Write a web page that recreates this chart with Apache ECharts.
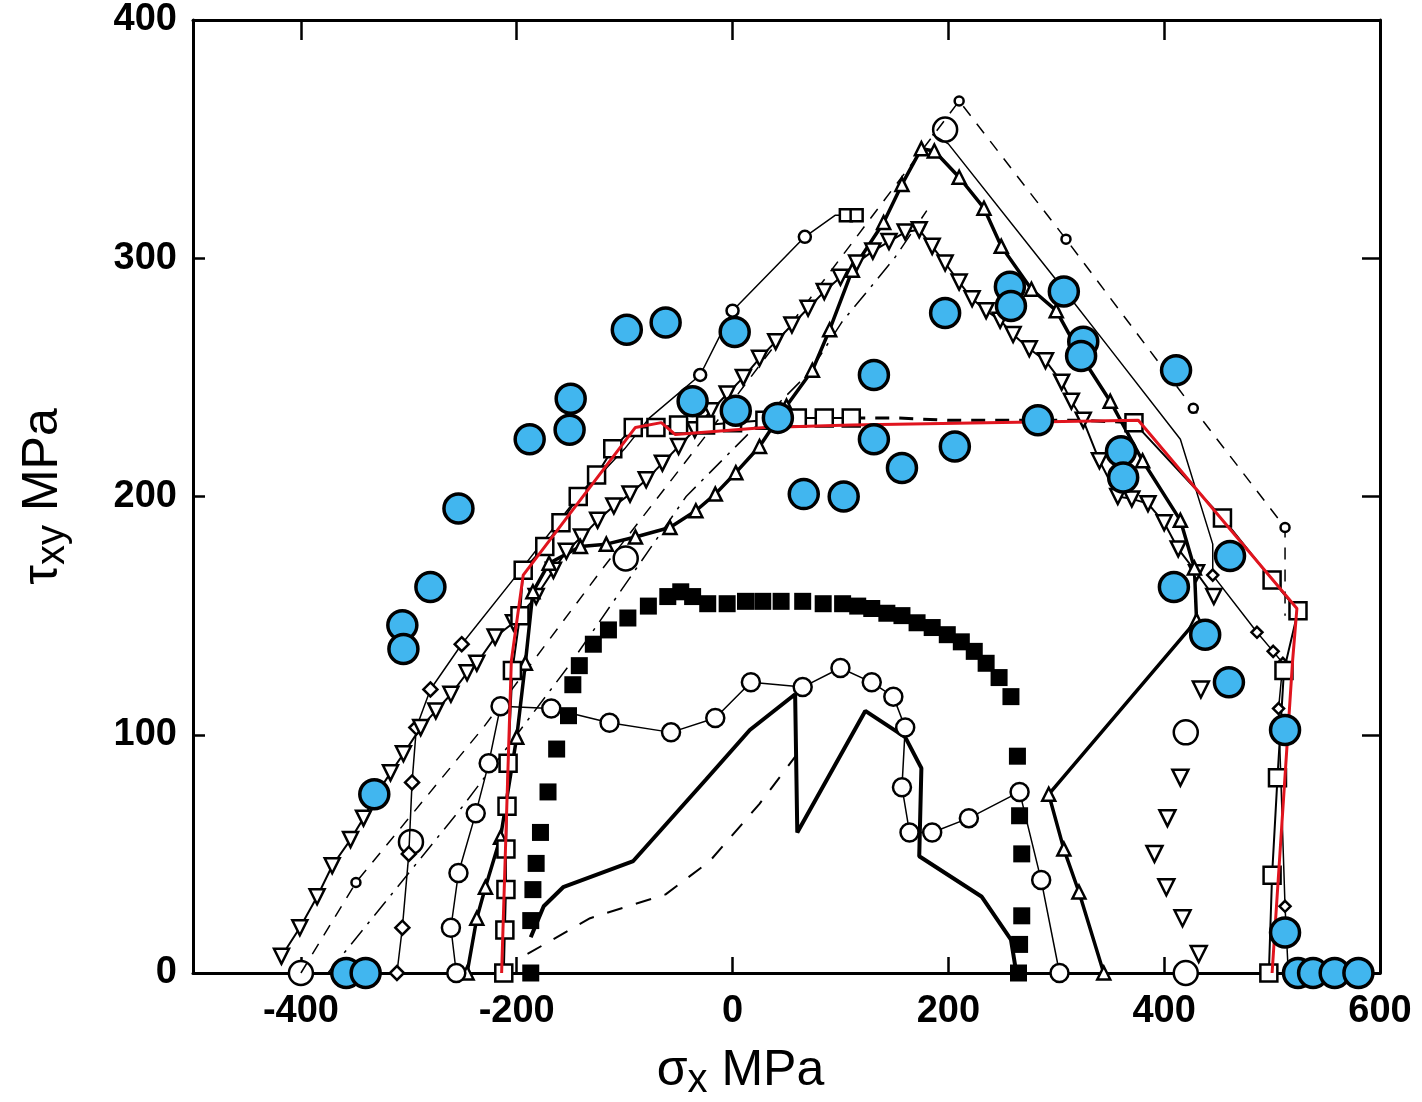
<!DOCTYPE html>
<html><head><meta charset="utf-8">
<script src="https://cdn.jsdelivr.net/npm/echarts@6/dist/echarts.min.js"></script>
<style>html,body{margin:0;padding:0;background:#fff}#c{width:1422px;height:1102px}</style>
</head><body><div id="c"></div>
<script>
const xTickValues = [-400, -200, 0, 200, 400, 600];
const yTickValues = [0, 100, 200, 300, 400];

const redModel = [[-214,0],[-205,131],[-194,167],[-90,229],[-66,231],[-53,226],[30,229],[110,230],[376,232],[523,153],[521,142],[519,131],[500,0]];

const blueData = [[-98,270],[-62,273],[2,269],[-150,241],[-151,228],[-188,224],[-254,195],[-280,162],[-306,146],[-305,136],[-332,75],[-358,0],[-340,0],[-37,240],[3,236],[42,233],[131,251],[131,224],[157,212],[206,221],[66,201],[103,200],[197,277],[257,288],[258,280],[307,286],[325,265],[323,259],[411,253],[283,232],[360,219],[362,208],[461,175],[409,162],[438,142],[460,122],[512,102],[512,17],[524,0],[538,0],[558,0],[580,0]];

const openSquares = [[-212,0],[-211,18],[-210,35],[-210,52],[-209,70],[-208,88],[-204,127],[-197,150],[-194,169],[-174,179],[-159,189],[-143,200],[-126,209],[-111,220],[-92,229],[-71,229],[-50,230],[-25,230],[0,231],[30,232],[60,233],[85,233],[110,233]];
const openSquaresTop = [[110,233],[150,233],[200,232],[260,232],[320,232],[372,231]];
const openSquaresRight = [[372,231],[454,191],[500,165],[524,152],[511,127],[505,82],[500,41],[497,0]];

const filledSquares = [[-187,0],[-187,22],[-185,35],[-182,46],[-178,59],[-171,76],[-163,94],[-152,108],[-148,121],[-142,129],[-129,138],[-115,144],[-97,149],[-78,154],[-60,158],[-48,160],[-37,158],[-23,155],[-5,155],[12,156],[28,156],[45,156],[65,156],[84,155],[102,155],[116,154],[129,153],[143,151],[157,150],[171,147],[185,145],[199,142],[212,139],[224,135],[235,130],[247,124],[258,116],[264,91],[266,66],[268,50],[268,24],[266,12],[265,0]];

const downTri = [[-418,7],[-401,19],[-385,32],[-371,45],[-354,56],[-342,65],[-330,75],[-317,84],[-305,92],[-289,103],[-275,110],[-261,117],[-246,126],[-237,130],[-220,141],[-203,147],[-182,158],[-166,169],[-154,177],[-140,183],[-125,190],[-110,196],[-95,201],[-80,207],[-65,214],[-50,221],[-35,228],[-20,236],[-5,243],[10,250],[25,258],[40,265],[55,272],[70,279],[85,286],[100,292],[115,298],[130,303],[145,307],[160,311],[173,312],[185,305],[197,298],[210,290],[222,283],[235,278],[248,274],[260,268],[275,262],[290,257],[305,248],[314,240],[325,232],[340,215],[357,200],[370,199],[385,197],[400,189],[413,178],[430,168],[446,158]];
const downTriIso = [[434,119],[415,82],[403,65],[391,50],[402,36],[417,23],[432,8]];

const upTri = [[-246,0],[-237,23],[-229,36],[-215,57],[-200,99],[-192,130],[-185,160],[-170,172],[-141,179],[-117,180],[-90,183],[-58,187],[-34,194],[-16,201],[3,210],[25,221],[50,238],[74,253],[90,270],[111,295],[140,315],[157,331],[175,346],[187,345],[210,334],[233,321],[249,305],[277,287],[300,278],[323,259],[350,240],[380,215],[415,190],[428,170],[430,148],[293,75],[307,52],[321,34],[344,0]];

const diamonds = [[-311,0],[-306,19],[-300,50],[-297,80],[-293,103],[-280,119],[-251,138],[-200,167],[-150,196],[-100,220],[-77,233],[-30,251],[0,278],[67,309],[95,318],[105,318],[115,318]];
const thinRight = [[185,352],[200,348],[298,292],[348,263],[415,224],[445,180],[445,167],[486,143],[501,135],[510,130],[506,111],[512,28],[515,0]];

const dashA = [[-400,0],[-349,38],[-231,103],[-120,170],[0,240],[100,300],[210,366],[309,308],[427,237],[512,187],[512,150]];
const dashB = [[-375,0],[-250,70],[-150,130],[-43,200],[71,252],[101,273],[150,300],[180,320]];
const dashLow = [[-190,8],[-132,23],[-62,33],[-21,47],[25,71],[60,92]];

const thickCurve = [[-187,15],[-175,28],[-157,36],[-92,47],[-25,81],[16,102],[58,117],[60,59],[123,110],[160,99],[175,86],[173,49],[231,32],[258,14],[263,0]];

const openCircles = [[-256,0],[-261,19],[-254,42],[-238,67],[-226,88],[-215,112],[-168,111],[-114,105],[-57,101],[-16,107],[17,122],[65,120],[100,128],[129,122],[149,116],[160,103],[157,78],[164,59],[185,59],[219,65],[266,76],[286,39],[303,0]];
const bigCircles = [[-400,0],[-298,55],[-99,174],[197,354],[420,101],[420,0]];

const chart = echarts.init(document.getElementById('c'));
const BLK = '#000';
function lineS(data, opt) {
  return Object.assign({
    type: 'line', data: data, symbol: 'none', silent: true, animation: false,
    lineStyle: { color: BLK, width: 1.5 },
    itemStyle: { color: '#fff', borderColor: BLK, borderWidth: 2.5, opacity: 1 }
  }, opt);
}
const FONT = 'Liberation Sans, Arial, sans-serif';
const axisFont = { fontFamily: FONT, fontSize: 38, fontWeight: 'bold', color: '#000' };
const nameRich = {
  a: { fontFamily: FONT, fontSize: 50, color: '#000' },
  s: { fontFamily: FONT, fontSize: 40, color: '#000', verticalAlign: 'bottom', padding: [20, 0, 0, 0] }
};

chart.setOption({
  backgroundColor: '#fff',
  animation: false,
  grid: { left: 193, right: 42, top: 20, bottom: 129, containLabel: false, outerBoundsMode: 'none' },
  xAxis: [{
    type: 'value', min: -500, max: 600,
    axisLine: { onZero: false, lineStyle: { color: BLK, width: 3 } },
    axisTick: { inside: true, length: 16, lineStyle: { color: BLK, width: 2.5 }, customValues: xTickValues },
    axisLabel: Object.assign({ margin: 20, customValues: xTickValues }, axisFont),
    splitLine: { show: false },
    name: '{a|σ}{s|x}{a| MPa}', nameLocation: 'middle', nameGap: 68,
    nameTextStyle: { rich: nameRich, padding: [0, 92, 0, 0] }
  }, {
    type: 'value', min: -500, max: 600, position: 'top',
    axisLine: { onZero: false, lineStyle: { color: BLK, width: 3 } },
    axisTick: { inside: true, length: 20, lineStyle: { color: BLK, width: 2.5 }, customValues: xTickValues },
    axisLabel: { show: false }, splitLine: { show: false }
  }],
  yAxis: [{
    type: 'value', min: 0, max: 400, interval: 100, position: 'left',
    axisLine: { onZero: false, lineStyle: { color: BLK, width: 3 } },
    axisTick: { inside: true, length: 12, lineStyle: { color: BLK, width: 2.5 } },
    axisLabel: Object.assign({ margin: 16 }, axisFont),
    splitLine: { show: false },
    name: '{a|τ}{s|xy}{a| MPa}', nameLocation: 'middle', nameGap: 120, nameRotate: 90,
    nameTextStyle: { rich: nameRich }
  }, {
    type: 'value', min: 0, max: 400, interval: 100, position: 'right',
    axisLine: { onZero: false, lineStyle: { color: BLK, width: 3 } },
    axisTick: { inside: true, length: 18, lineStyle: { color: BLK, width: 2.5 } },
    axisLabel: { show: false }, splitLine: { show: false }
  }],
  series: [
    lineS(dashA, { lineStyle: { color: BLK, width: 1.5, type: [12, 10] },
      data: dashA.map((p, i) => ({ value: p, symbol: [1, 6, 7, 8, 9].includes(i) ? 'circle' : 'none', symbolSize: 9 })) }),
    lineS(dashB, { lineStyle: { color: BLK, width: 1.5, type: [18, 8, 3, 8] } }),
    lineS(dashLow, { lineStyle: { color: BLK, width: 2, type: [16, 14] } }),
    lineS(thinRight, { data: thinRight.map((p, i) => ({ value: p, symbol: i >= 6 ? 'diamond' : 'none', symbolSize: 11 })) }),
    lineS(diamonds, { data: diamonds.map((p, i) => ({ value: p,
      symbol: i < 7 ? 'diamond' : (i >= 11 && i <= 13 ? 'circle' : (i >= 15 ? 'rect' : 'none')),
      symbolSize: i < 7 ? 14 : 12 })) }),
    lineS(downTri, { symbol: 'triangle', symbolRotate: 180, symbolSize: 15, lineStyle: { color: BLK, width: 2 } }),
    lineS(downTriIso, { symbol: 'triangle', symbolRotate: 180, symbolSize: 16, lineStyle: { width: 0, opacity: 0 } }),
    lineS(upTri, { symbol: 'triangle', symbolSize: 13, lineStyle: { color: BLK, width: 3.5 } }),
    lineS(openSquares, { symbol: 'rect', symbolSize: 17, lineStyle: { color: BLK, width: 2 } }),
    lineS(openSquaresTop, { lineStyle: { color: BLK, width: 3, type: [14, 10] } }),
    lineS(openSquaresRight, { symbol: 'rect', symbolSize: 17, lineStyle: { color: BLK, width: 2 } }),
    lineS(thickCurve, { lineStyle: { color: BLK, width: 4 } }),
    lineS(openCircles, { symbol: 'circle', symbolSize: 18, lineStyle: { color: BLK, width: 1.5 } }),
    { type: 'scatter', data: filledSquares, symbol: 'rect', symbolSize: 17, silent: true,
      itemStyle: { color: BLK, opacity: 1 } },
    { type: 'scatter', data: bigCircles, symbol: 'circle', symbolSize: 24, silent: true,
      itemStyle: { color: '#fff', borderColor: BLK, borderWidth: 2.5, opacity: 1 } },
    lineS(redModel, { lineStyle: { color: '#e0141e', width: 3 }, z: 5 }),
    { type: 'scatter', data: blueData, symbol: 'circle', symbolSize: 29, silent: true, z: 6,
      itemStyle: { color: '#41b6ef', borderColor: BLK, borderWidth: 3.5, opacity: 1 } }
  ]
});
</script>
</body></html>
